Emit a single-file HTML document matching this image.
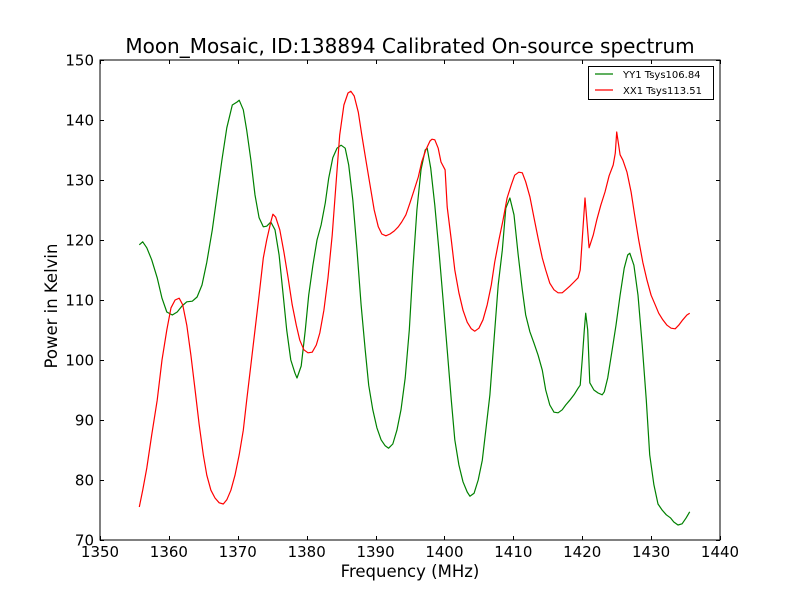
<!DOCTYPE html>
<html><head><meta charset="utf-8"><style>
html,body{margin:0;padding:0;background:#fff;}
svg{display:block;font-family:"DejaVu Sans","Liberation Sans",sans-serif;}
</style></head><body>
<svg id="chart" width="800" height="600" viewBox="0 0 800 600">
<rect x="0" y="0" width="800" height="600" fill="#fff"/>
<text x="410" y="53" font-size="20" text-anchor="middle">Moon_Mosaic, ID:138894 Calibrated On-source spectrum</text>
<g id="axes"></g>
<g id="series"></g>
<rect x="100" y="60" width="620" height="480" fill="none" stroke="#000" stroke-width="1"/>
<text x="410" y="577" font-size="16.5" text-anchor="middle">Frequency (MHz)</text>
<text x="0" y="0" font-size="16.5" text-anchor="middle" transform="translate(57,306) rotate(-90)">Power in Kelvin</text>
<g>
<rect x="588.5" y="66.5" width="125" height="33" fill="#fff" stroke="#000" stroke-width="1"/>
<line x1="595" y1="74" x2="613" y2="74" stroke="#008000" stroke-width="1.2"/>
<text x="623" y="78" font-size="10">YY1 Tsys106.84</text>
<line x1="595" y1="90" x2="613" y2="90" stroke="#ff0000" stroke-width="1.2"/>
<text x="623" y="94" font-size="10">XX1 Tsys113.51</text>
</g>
</svg>
<script>
const xTicks = [1350,1360,1370,1380,1390,1400,1410,1420,1430,1440];
const yTicks = [70,80,90,100,110,120,130,140,150];
const yyFreq = [1355.7,1356.2,1356.8,1357.5,1358.3,1359.0,1359.7,1360.5,1361.2,1361.9,1362.6,1363.4,1364.1,1364.8,1365.5,1366.3,1367.0,1367.7,1368.4,1369.2,1369.9,1370.2,1370.8,1371.3,1371.9,1372.5,1373.1,1373.7,1374.2,1374.8,1375.4,1376.0,1376.6,1377.1,1377.7,1378.3,1378.6,1379.2,1379.8,1380.3,1380.9,1381.5,1382.1,1382.7,1383.2,1383.8,1384.4,1385.0,1385.6,1386.1,1386.7,1387.3,1387.9,1388.5,1389.0,1389.6,1390.2,1390.8,1391.4,1391.9,1392.5,1393.1,1393.7,1394.3,1394.9,1395.4,1396.0,1396.6,1397.2,1397.5,1398.0,1398.6,1399.2,1399.8,1400.4,1401.0,1401.5,1402.1,1402.7,1403.3,1403.7,1404.3,1404.9,1405.5,1406.0,1406.6,1407.2,1407.8,1408.4,1408.9,1409.5,1410.1,1410.7,1411.3,1411.8,1412.4,1413.0,1413.6,1414.2,1414.7,1415.3,1415.9,1416.5,1417.1,1417.6,1418.2,1418.8,1419.4,1419.7,1420.0,1420.3,1420.5,1420.8,1421.1,1421.7,1422.3,1422.9,1423.2,1423.7,1424.3,1424.9,1425.5,1426.1,1426.6,1426.9,1427.5,1428.1,1428.7,1429.3,1429.8,1430.4,1431.0,1431.6,1432.2,1432.8,1433.3,1433.9,1434.5,1435.1,1435.6];
const yyPower = [119.2,119.7,118.7,116.7,113.7,110.3,108.0,107.5,108.0,109.0,109.7,109.8,110.5,112.5,116.3,121.7,127.5,133.3,138.7,142.5,143.0,143.3,141.7,138.3,133.3,127.5,123.7,122.2,122.3,123.0,121.7,117.5,110.8,105.0,100.0,97.8,97.0,99.0,105.0,110.8,115.8,120.0,122.5,126.2,130.3,133.7,135.3,135.8,135.3,132.5,126.7,118.3,109.2,101.7,95.8,91.7,88.7,86.7,85.7,85.3,86.0,88.3,91.7,97.0,105.0,115.0,125.0,131.7,135.0,135.3,132.0,125.8,118.3,110.0,101.7,93.3,86.7,82.5,79.7,78.0,77.3,77.8,80.0,83.3,88.3,94.2,103.3,112.5,118.3,125.3,127.0,124.2,117.5,111.7,107.5,104.7,102.8,100.8,98.3,95.0,92.5,91.3,91.2,91.7,92.5,93.3,94.2,95.3,95.8,100.0,105.0,107.8,105.0,96.2,95.0,94.5,94.2,94.7,97.0,101.3,105.8,110.8,115.3,117.5,117.8,115.8,110.8,102.5,93.3,84.2,79.2,76.0,75.0,74.2,73.7,73.0,72.5,72.7,73.7,74.7];
const xxFreq = [1355.7,1356.2,1356.8,1357.5,1358.3,1359.0,1359.7,1360.3,1360.9,1361.5,1362.0,1362.6,1363.2,1363.8,1364.4,1365.0,1365.5,1366.1,1366.7,1367.3,1367.9,1368.4,1369.0,1369.6,1370.2,1370.8,1371.3,1371.9,1372.5,1373.1,1373.7,1374.2,1374.8,1375.1,1375.5,1376.1,1376.7,1377.3,1377.9,1378.5,1379.0,1379.6,1380.2,1380.8,1381.4,1381.9,1382.5,1383.1,1383.7,1384.3,1384.8,1385.4,1386.0,1386.4,1386.9,1387.5,1388.0,1388.6,1389.2,1389.8,1390.4,1390.9,1391.5,1392.1,1392.7,1393.3,1393.8,1394.4,1395.0,1395.6,1396.2,1396.7,1397.3,1397.9,1398.2,1398.6,1399.1,1399.5,1400.1,1400.4,1401.0,1401.5,1402.1,1402.7,1403.3,1403.9,1404.4,1405.0,1405.6,1406.2,1406.8,1407.3,1407.9,1408.5,1409.1,1409.7,1410.2,1410.8,1411.3,1411.8,1412.4,1413.0,1413.6,1414.2,1414.7,1415.3,1415.9,1416.5,1417.1,1417.6,1418.2,1418.8,1419.4,1419.7,1420.0,1420.4,1421.0,1421.6,1422.1,1422.7,1423.3,1423.9,1424.5,1424.8,1425.0,1425.5,1425.9,1426.5,1427.1,1427.6,1428.2,1428.8,1429.4,1430.0,1430.6,1431.1,1431.7,1432.3,1432.9,1433.5,1434.0,1434.6,1435.2,1435.6];
const xxPower = [75.5,78.3,82.0,87.5,93.3,100.0,105.0,108.7,110.0,110.3,109.2,105.8,100.8,95.0,89.2,84.2,80.8,78.3,77.0,76.2,76.0,76.7,78.3,80.8,84.2,88.3,93.3,99.2,105.0,110.8,117.0,120.0,123.0,124.3,123.8,121.7,118.0,113.7,109.2,105.8,103.3,101.7,101.2,101.3,102.5,104.5,108.3,113.7,120.8,130.0,137.5,142.5,144.5,144.8,144.0,141.3,137.5,133.3,129.2,125.0,122.2,121.0,120.7,121.0,121.5,122.2,123.0,124.2,126.2,128.3,130.5,133.0,135.0,136.5,136.8,136.7,135.3,133.0,131.7,125.5,120.0,115.0,111.2,108.3,106.3,105.2,104.8,105.3,106.7,109.2,112.5,116.3,120.0,123.3,127.0,129.2,130.8,131.3,131.2,129.7,127.2,123.7,120.3,117.0,115.0,112.8,111.7,111.2,111.2,111.7,112.3,113.0,113.7,115.0,120.0,127.0,118.7,120.8,123.3,125.8,128.0,130.7,132.5,134.5,138.0,134.2,133.3,131.3,128.0,124.2,120.0,116.3,113.3,110.8,109.2,107.8,106.7,105.8,105.3,105.2,105.8,106.7,107.5,107.8];

const NS='http://www.w3.org/2000/svg';
const X0=100,X1=720,Y0=540,Y1=60;
function sx(v){return X0+(v-1350)/(1440-1350)*(X1-X0);}
function sy(v){return Y0-(v-70)/(150-70)*(Y0-Y1);}
function mk(tag,attrs,parent){const e=document.createElementNS(NS,tag);for(const k in attrs)e.setAttribute(k,attrs[k]);parent.appendChild(e);return e;}
const axes=document.getElementById('axes');
xTicks.forEach(t=>{
  const x=Math.round(sx(t))+0.5;
  const a=mk('line',{x1:x,y1:540,x2:x,y2:536,stroke:'#000'},axes);
  
  
  const b=mk('line',{x1:x,y1:60,x2:x,y2:64,stroke:'#000'},axes);
  
  
  const l=mk('text',{x:sx(t),y:557,'font-size':15,'text-anchor':'middle'},axes);
  l.textContent=t;
  
  
});
yTicks.forEach(t=>{
  const y=Math.round(sy(t))+0.5;
  const a=mk('line',{x1:100,y1:y,x2:104,y2:y,stroke:'#000'},axes);
  
  
  const b=mk('line',{x1:720,y1:y,x2:716,y2:y,stroke:'#000'},axes);
  
  
  const l=mk('text',{x:94,y:sy(t)+5.5,'font-size':15,'text-anchor':'end'},axes);
  l.textContent=t;
  
  
});
const series=document.getElementById('series');
function line(fs,ps){
  return fs.map((f,i)=>(i?'L':'M')+sx(f).toFixed(1)+','+sy(ps[i]).toFixed(1)).join(' ');
}
const g=mk('path',{d:line(yyFreq,yyPower),fill:'none',stroke:'#008000','stroke-width':1.2,'stroke-linejoin':'round'},series);


const r=mk('path',{d:line(xxFreq,xxPower),fill:'none',stroke:'#ff0000','stroke-width':1.2,'stroke-linejoin':'round'},series);


</script>
</body></html>
